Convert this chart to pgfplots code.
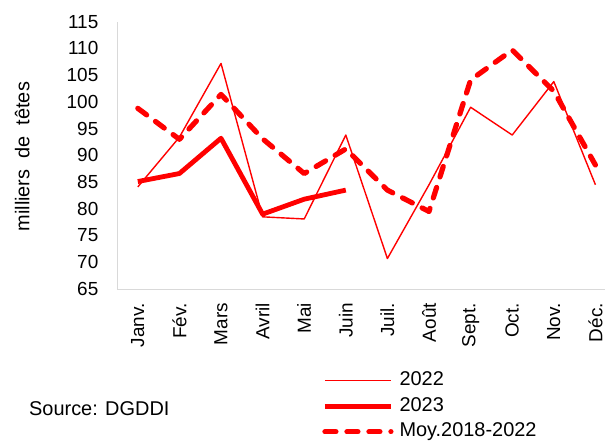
\documentclass[border=0pt]{standalone}
\usepackage{fontspec}
\setmainfont{Liberation Sans}
\usepackage{pgfplots}
\pgfplotsset{compat=1.18}
\definecolor{ARed}{HTML}{FF0000}
\definecolor{AxGray}{HTML}{D9D9D9}

\begin{document}
\begin{tikzpicture}
\path[use as bounding box] (0,0) rectangle (605bp,441bp);
\begin{axis}[
  at={(117bp,152bp)}, anchor=south west,
  scale only axis, width=488.4bp, height=267.3bp,
  xmin=-0.5, xmax=11.24, ymin=65, ymax=115,
  ytick={65,70,...,115},
  xtick={0,...,11},
  xticklabels={Janv.,Fév.,Mars,Avril,Mai,Juin,Juil.,Août,Sept.,Oct.,Nov.,Déc.},
  axis x line=bottom, axis y line=left,
  axis line style={draw=AxGray,line width=1bp,-},
  major tick length=0pt,
  tick label style={font=\fontsize{19}{22}\selectfont},
  /pgf/number format/assume math mode=true,
  yticklabel style={inner sep=0pt,anchor=east,xshift=-18.5bp},
  xticklabel style={inner sep=0pt,yshift=-14bp,rotate=90,anchor=east},
  ylabel={milliers\ \ de\ \ têtes},
  ylabel style={font=\fontsize{20}{23}\selectfont,at={(axis description cs:-0.194,0.495)},anchor=center},
  clip=false,
  legend style={draw=none,fill=none,inner sep=0pt,row sep=7.5bp,
    at={(axis description cs:0.42,-0.309)},anchor=north west,
    nodes={inner sep=0pt,text height=14bp,text depth=4bp,font=\fontsize{20}{23}\selectfont},
    cells={anchor=west}},
  legend image code/.code={\draw[#1] (0bp,0bp) -- (66bp,0bp);},
  legend cell align=left,
]
\addplot[ARed,line width=1.4bp,line join=round] coordinates {
  (0,84.1) (1,93.4) (2,107.2) (3,78.5) (4,78.1) (5,93.8)
  (6,70.7) (7,84.5) (8,99.0) (9,93.8) (10,103.8) (11,84.5)};
\addlegendentry{\hspace{6bp}2022}
\addplot[ARed,line width=4.8bp,line join=round] coordinates {
  (0,85.1) (1,86.6) (2,93.2) (3,79.0) (4,81.8) (5,83.5)};
\addlegendentry{\hspace{6bp}2023}
\addplot[ARed,line width=5.2bp,line join=round,line cap=round,dash pattern=on 11bp off 11bp] coordinates {
  (0,98.8) (1,93.0) (2,101.4) (3,93.1) (4,86.6) (5,91.2)
  (6,83.5) (7,79.5) (8,104.1) (9,109.7) (10,102.0) (11,88.2)};
\addlegendentry{\hspace{6bp}Moy.2018-2022}
\end{axis}
\node[anchor=base west,inner sep=0pt,font=\fontsize{20}{23}\selectfont] at (29bp,26bp) {Source: DGDDI};
\end{tikzpicture}
\end{document}
